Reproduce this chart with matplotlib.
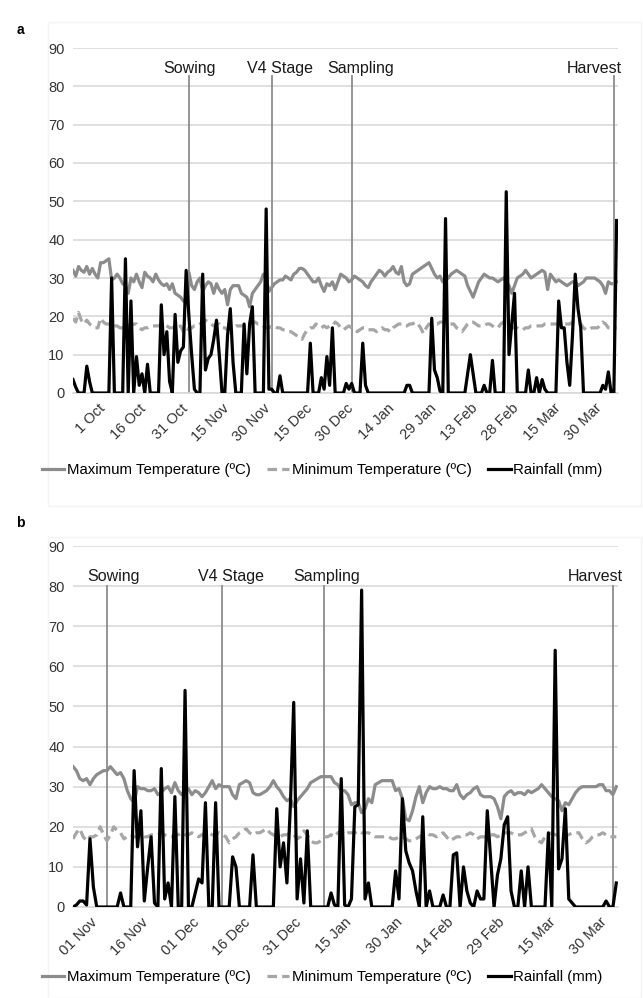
import matplotlib
matplotlib.use("Agg")
import matplotlib.pyplot as plt
from matplotlib.patches import Rectangle

plt.rcParams['font.family'] = ['Liberation Sans', 'DejaVu Sans']

# ---- season a: daily values, index 0 = 22 Sep ----
tmax_a = [32, 30.5, 33, 32, 31.5, 33, 31, 32.5, 31, 30,
          34, 34, 34.5, 35, 29.5, 30, 31, 30, 28.5, 28,
          26, 30, 29, 31, 29, 27.5, 31.5, 30.5, 30, 29,
          31, 29.5, 28.5, 28, 28.5, 27, 28.5, 26, 25.5, 25,
          24, 23.5, 31.5, 28, 27, 29, 30, 26.5, 28, 29,
          28.5, 26, 28.5, 27, 26, 27, 23, 27, 28, 28,
          28, 26, 25.5, 25, 22.5, 26, 27, 28, 29, 31,
          30, 26.5, 27.5, 28.5, 29, 29.5, 29.5, 30.5, 30, 29.5,
          31, 31.5, 32.5, 32.5, 32, 31, 30, 29, 29, 30,
          28, 26.5, 28.5, 28, 29, 27, 29, 31, 30.5, 30,
          29, 29.5, 30.5, 30, 29.5, 29, 28, 27.5, 29, 30,
          31, 32, 31.5, 30.5, 31.5, 32, 33, 31.5, 31, 33,
          29, 28, 28.5, 31, 31.5, 32, 32.5, 33, 33.5, 34,
          32.5, 31, 30, 30.5, 29, 29.5, 30, 31, 31.5, 32,
          31.5, 31, 30.5, 28, 26.5, 25, 27, 29, 30, 31,
          30.5, 30, 30, 29.5, 29, 29.5, 30, 29, 28, 26,
          28, 30, 30.5, 31, 32, 31, 30, 30.5, 31, 31.5,
          32, 31.5, 27, 31, 30, 29, 29.5, 29, 28.5, 28,
          28.5, 29, 29, 28, 28.5, 29, 30, 30, 30, 30,
          29.5, 29, 28, 26, 29, 28.5, 28.5, 29]

tmin_a = [19.5, 18.5, 21, 19, 18, 19, 18, 17.5, 17, 17,
          19.5, 18.5, 18, 18, 18, 17.5, 17.5, 17, 17, 17,
          17.5, 17.5, 18, 18, 17, 16.5, 17, 17, 17.5, 17.5,
          17.5, 17.5, 18, 18, 17.5, 17, 17, 17.5, 17, 17.5,
          16, 15.5, 17, 17, 17.5, 17.5, 18, 18.5, 19, 18.5,
          18, 17.5, 18, 18, 17, 17, 16.5, 17, 17, 17.5,
          17.5, 17.5, 17.5, 18, 18, 18.5, 18.5, 18, 18, 17.5,
          17, 17, 17.5, 17.5, 17, 17, 16.5, 16.5, 16, 16,
          15.5, 15, 14.5, 14, 15.5, 16.5, 17, 17, 18, 17.5,
          17, 17.5, 17, 17.5, 17.5, 18.5, 18, 17, 16.5, 17,
          17.5, 17, 16.5, 16, 16.5, 17, 17, 16.5, 16.5, 16.5,
          16, 16.5, 17, 16.5, 16.5, 16, 17, 17.5, 18, 18,
          17.5, 17.5, 18, 18, 18.5, 18, 17, 15.5, 17, 18,
          18, 18, 18, 18.5, 18.5, 18.5, 18, 18, 18, 17,
          16.5, 16, 17, 18, 18.5, 18.5, 18, 17.5, 17.5, 17.5,
          18, 18, 17.5, 17, 17, 18, 18.5, 18, 17.5, 17,
          17, 17, 16.5, 16.5, 17, 17, 17.5, 17.5, 17.5, 17.5,
          17.5, 18, 18, 18, 18, 18, 18, 18, 18, 18,
          18, 18.5, 18.5, 18.5, 18, 17, 16.5, 16.5, 17, 17,
          17, 17.5, 18.5, 18, 17, 17, 17, 17]

rain_a = [3.5, 1.5, 0, 0, 0, 7, 3, 0, 0, 0,
          0, 0, 0, 0, 30, 0, 0, 0, 0, 35,
          0, 24, 0, 9.5, 2, 5, 0, 7.5, 0, 0,
          0, 0, 23, 10, 16, 3, 0, 20.5, 8, 11,
          12, 32, 20, 10, 1, 0, 0, 31, 6, 9,
          10, 14, 19, 10, 0, 0, 15, 22, 8, 0,
          0, 0, 18, 5, 18, 22.5, 0, 0, 0, 0,
          48, 1, 1, 0, 0, 4.5, 0, 0, 0, 0,
          0, 0, 0, 0, 0, 0, 13, 0, 0, 0,
          4, 1, 9.5, 2, 17, 0, 0, 0, 0, 2.5,
          1, 2.5, 0, 0, 0, 13, 2, 0, 0, 0,
          0, 0, 0, 0, 0, 0, 0, 0, 0, 0,
          0, 2, 2, 0, 0, 0, 0, 0, 0, 0,
          19.5, 6, 4, 0.5, 0, 45.5, 0, 0, 0, 0,
          0, 0, 0, 5, 10, 5, 0, 0, 0, 2,
          0, 0, 8.5, 0, 0, 0, 0, 52.5, 10, 18,
          26, 0, 0, 0, 0, 6, 0, 0, 4, 0,
          3.5, 1, 0, 0, 0, 0, 24, 17, 17, 8,
          2, 15, 31, 22, 17, 0, 0, 0, 0, 0,
          0, 0, 2, 1, 5.5, 0, 0, 45]

ticks_a = ['1 Oct', '16 Oct', '31 Oct', '15 Nov', '30 Nov', '15 Dec', '30 Dec',
           '14 Jan', '29 Jan', '13 Feb', '28 Feb', '15 Mar', '30 Mar']
first_tick_a = 9
events_a = ['Sowing', 'V4 Stage', 'Sampling', 'Harvest']
event_days_a = [42, 72, 101, 196]

# ---- season b: daily values, index 0 = 27 Oct ----
tmax_b = [35, 34, 32, 31.5, 32, 30.5, 32, 33, 33.5, 34,
          34, 35, 34, 33, 33.5, 32, 29, 27, 26, 30,
          29.5, 29.5, 29, 29, 29.5, 28, 28.5, 29.5, 30, 28.5,
          31, 29, 28, 29, 29.5, 28, 29, 28.5, 27.5, 28.5,
          30, 31.5, 29.5, 30.5, 30, 30, 30, 28, 27, 30.5,
          31, 31.5, 31, 28.5, 28, 28, 28.5, 29, 30, 31.5,
          30, 29, 27.5, 26.5, 27, 25, 26.5, 27.5, 28.5, 29.5,
          31, 31.5, 32, 32.5, 32.5, 32.5, 32.5, 31, 30.5, 29,
          29, 28, 25.5, 26, 26, 23.5, 24.5, 27, 26, 30.5,
          31, 31.5, 31.5, 31.5, 31.5, 29, 29.5, 27, 22, 21.5,
          24, 27.5, 30, 26, 28.5, 30, 29.5, 29.5, 30, 29.5,
          29.5, 29, 29, 30.5, 28, 27, 28, 28.5, 29.5, 30,
          28, 27.5, 27.5, 27.5, 27, 25, 22, 27.5, 28.5, 29,
          28, 28.5, 28.5, 28, 29, 28.5, 29, 29.5, 30.5, 29.5,
          28.5, 27.5, 27, 26.5, 24, 26, 25.5, 27, 28.5, 29.5,
          30, 30, 30, 30, 30, 30.5, 30.5, 29, 29, 28, 30]

tmin_b = [17, 18.5, 19.5, 17.5, 16.5, 17.5, 17.5, 18, 20, 18,
          16.5, 18, 20, 19, 18.5, 17, 17.5, 18, 17.5, 17.5,
          18, 17.5, 17.5, 18, 18, 18, 18.5, 18, 17.5, 17.5,
          18, 18, 18.5, 18, 18, 18.5, 18, 17.5, 18, 18.5,
          18.5, 18, 18, 18.5, 18, 17.5, 16, 17, 17.5, 18.5,
          19, 19.5, 18.5, 18, 18.5, 18.5, 19, 19.5, 18.5, 18,
          17.5, 17.5, 18, 18, 18.5, 18, 17, 17.5, 19, 18,
          16.5, 16, 16, 16.5, 17.5, 17.5, 18, 17.5, 18.5, 19,
          18, 18.5, 18.5, 18.5, 19, 18.5, 18.5, 18.5, 18, 17.5,
          17.5, 17.5, 17.5, 17.5, 17, 17, 17.5, 17.5, 17, 16.5,
          16.5, 17, 17.5, 18, 18.5, 18, 18, 17.5, 18, 18.5,
          17.5, 16.5, 17, 17.5, 17.5, 18, 18, 18.5, 18, 17,
          17.5, 17.5, 17.5, 18, 18, 17.5, 18, 18.5, 18.5, 18.5,
          18, 18, 18, 18.5, 19, 19.5, 17.5, 16.5, 16, 17.5,
          18, 18.5, 18, 18, 18, 18, 18, 18.5, 18.5, 18.5,
          17, 16, 16.5, 17.5, 18, 18, 18.5, 18, 17.5, 17.5, 17.5]

rain_b = [0, 0.5, 1.5, 1.5, 0.5, 17, 5, 0, 0, 0,
          0, 0, 0, 0, 3.5, 0, 0, 0, 34, 15,
          24, 1.5, 10, 17.5, 1, 0, 34.5, 2, 6, 0,
          27.5, 0, 0, 54, 0, 0, 3.5, 7, 6, 26,
          0, 0, 26, 0, 0, 0, 0, 12.5, 10, 0,
          0, 0, 0, 13, 0, 0, 0, 0, 0, 0,
          24.5, 10, 16, 6, 25, 51, 2, 12, 1, 19,
          0, 0, 0, 0, 0, 0, 3.5, 0.5, 0, 32,
          0.5, 0, 2, 25, 25.5, 79, 2, 6, 0, 0,
          0, 0, 0, 0, 0, 9, 2, 27, 14, 11,
          9, 4, 0, 22.5, 0, 4, 0, 0, 0, 3,
          0, 0, 13, 13.5, 0, 10, 4, 1, 0, 4,
          2, 2, 24, 12, 0, 8, 12, 20.5, 22.5, 4,
          0, 0, 9, 0, 10, 0, 0, 0, 0, 0,
          18.5, 0, 64, 9.5, 12, 24.5, 2, 1, 0, 0,
          0, 0, 0, 0, 0, 0, 0, 1.5, 0, 0, 6]

ticks_b = ['01 Nov', '16 Nov', '01 Dec', '16 Dec', '31 Dec', '15 Jan',
           '30 Jan', '14 Feb', '29 Feb', '15 Mar', '30 Mar']
first_tick_b = 5
events_b = ['Sowing', 'V4 Stage', 'Sampling', 'Harvest']
event_days_b = [10, 44, 74, 159]

W, H = 643, 998
fig = plt.figure(figsize=(W / 100, H / 100), dpi=100)


def draw_panel(rect, tmax, tmin, rain, ticks, first_tick, events, event_days,
               label_x, line_top, label_y, letter, letter_y, legend_y):
    ax = fig.add_axes(rect)
    days = list(range(len(rain)))
    # stage markers
    for d in event_days:
        ax.plot([d, d], [0, line_top], color='#8c8c8c', lw=1.3, zorder=2)
    for name, lx in zip(events, label_x):
        ax.text(lx, label_y, name, ha='center', va='baseline', fontsize=11.5,
                color='#1a1a1a', zorder=5)
    l1, = ax.plot(days[:len(tmax)], tmax, color='#8c8c8c', lw=2.3, zorder=3,
                  label='Maximum Temperature (ºC)')
    l2, = ax.plot(days[:len(tmin)], tmin, color='#a6a6a6', lw=2.3, zorder=3,
                  dashes=(3, 1.6), label='Minimum Temperature (ºC)')
    l3, = ax.plot(days, rain, color='black', lw=2.3, zorder=4,
                  label='Rainfall (mm)')
    ax.set_ylim(0, 90)
    ax.set_xlim(0, len(rain) - 0.5)
    ax.set_yticks(range(0, 100, 10))
    ax.tick_params(axis='y', length=0, pad=6, labelsize=10.5, labelcolor='#333333')
    ax.set_xticks([first_tick + 15 * k for k in range(len(ticks))])
    ax.set_xticklabels(ticks, rotation=45, ha='right', rotation_mode='anchor',
                       fontsize=10.5, color='#333333')
    ax.tick_params(axis='x', length=0, pad=6)
    ax.grid(axis='y', color='#d9d9d9', lw=1.2)
    ax.set_axisbelow(True)
    for side in ['top', 'right', 'left']:
        ax.spines[side].set_visible(False)
    ax.spines['bottom'].set_color('#d9d9d9')
    ax.spines['bottom'].set_linewidth(1.2)
    fig.text(20 / W, 1 - letter_y / H, letter, fontsize=10, fontweight='bold',
             ha='center', va='center')
    fig.legend(handles=[l1, l2, l3], loc='center', ncol=3, frameon=False,
               bbox_to_anchor=(322 / W, 1 - legend_y / H), fontsize=10.8,
               handlelength=1.5, handletextpad=0.15, columnspacing=1.1)
    return ax


draw_panel([73 / W, 1 - 393 / H, 545 / W, 345 / H], tmax_a, tmin_a, rain_a,
           ticks_a, first_tick_a, events_a, event_days_a,
           [42.1, 75.1, 104.1, 189], 82.7, 83.5, 'a', 30, 470)
draw_panel([73 / W, 1 - 907 / H, 545 / W, 361 / H], tmax_b, tmin_b, rain_b,
           ticks_b, first_tick_b, events_b, event_days_b,
           [11.8, 46.5, 74.6, 153.7], 80, 81.3, 'b', 523, 977)

# faint chart-area frames
for y0, y1 in [(22, 506), (537, 998)]:
    fig.patches.append(Rectangle((48 / W, 1 - y1 / H), (W - 50) / W, (y1 - y0) / H,
                                 transform=fig.transFigure, fill=False,
                                 edgecolor='#f4f4f4', lw=1))

fig.savefig('out.png', dpi=100, facecolor='white')
